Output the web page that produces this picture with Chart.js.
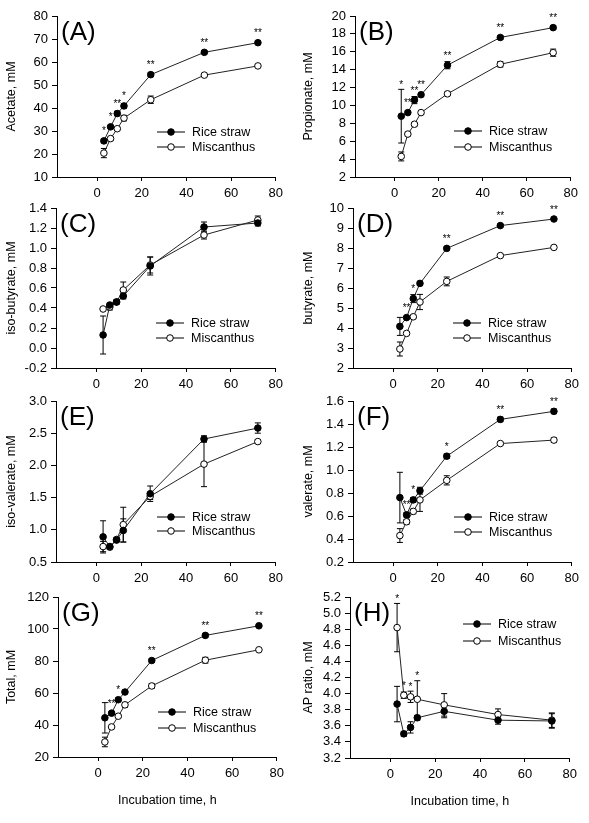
<!DOCTYPE html>
<html>
<head>
<meta charset="utf-8">
<script src="https://cdn.jsdelivr.net/npm/chart.js@4.4.1/dist/chart.umd.min.js"></script>
<style>
  body { margin: 0; background: #fff; }
  #wrap { position: relative; width: 589px; height: 823px; overflow: hidden; }
  #wrap canvas { position: absolute; }
</style>
</head>
<body>
<div id="wrap"></div>
<script>
// sampling times (h) and shared labels
const hours = [3, 6, 9, 12, 24, 48, 72];
const xTicks = [0, 20, 40, 60, 80];
const seriesNames = ['Rice straw', 'Miscanthus'];

// (A) acetate
const acetateTicks = [10, 20, 30, 40, 50, 60, 70, 80];
const acetateRice = [25.7, 31.8, 37.6, 40.9, 54.5, 64.2, 68.4];
const acetateRiceErr = [0.8, 0.6, 1.0, 1.0, 0.8, 0.6, 0.7];
const acetateMisc = [20.4, 26.7, 31.0, 35.6, 43.6, 54.3, 58.3];
const acetateMiscErr = [2.0, 0.6, 0.6, 1.2, 1.6, 0.6, 0.6];
const acetateSig = ['*', '*', '**', '*', '**', '**', '**'];

// (B) propionate
const propionateTicks = [2, 4, 6, 8, 10, 12, 14, 16, 18, 20];
const propionateRice = [8.8, 9.2, 10.6, 11.2, 14.5, 17.6, 18.7];
const propionateRiceErr = [3.0, 0.2, 0.4, 0.2, 0.4, 0.2, 0.2];
const propionateMisc = [4.3, 6.8, 7.9, 9.2, 11.3, 14.6, 15.9];
const propionateMiscErr = [0.5, 0.2, 0.2, 0.2, 0.2, 0.3, 0.4];
const propionateSig = ['*', '**', '**', '**', '**', '**', '**'];

// (C) iso-butyrate
const isoButyrateTicks = [-0.2, 0.0, 0.2, 0.4, 0.6, 0.8, 1.0, 1.2, 1.4];
const isoButyrateRice = [0.13, 0.43, 0.46, 0.52, 0.82, 1.21, 1.25];
const isoButyrateRiceErr = [0.19, 0.02, 0.02, 0.03, 0.09, 0.05, 0.03];
const isoButyrateMisc = [0.39, 0.41, 0.46, 0.58, 0.83, 1.13, 1.28];
const isoButyrateMiscErr = [0.01, 0.03, 0.02, 0.08, 0.08, 0.04, 0.04];
const isoButyrateSig = ['', '', '', '', '', '', ''];

// (D) butyrate
const butyrateTicks = [2, 3, 4, 5, 6, 7, 8, 9, 10];
const butyrateRice = [4.08, 4.52, 5.47, 6.23, 7.98, 9.12, 9.45];
const butyrateRiceErr = [0.45, 0.05, 0.2, 0.1, 0.08, 0.06, 0.05];
const butyrateMisc = [2.95, 3.73, 4.56, 5.3, 6.33, 7.62, 8.03];
const butyrateMiscErr = [0.35, 0.05, 0.08, 0.38, 0.22, 0.05, 0.06];
const butyrateSig = ['', '**', '*', '', '**', '**', '**'];

// (E) iso-valerate
const isoValerateTicks = [0.5, 1.0, 1.5, 2.0, 2.5, 3.0];
const isoValerateRice = [0.89, 0.74, 0.84, 0.99, 1.56, 2.41, 2.58];
const isoValerateRiceErr = [0.25, 0.02, 0.03, 0.18, 0.12, 0.05, 0.08];
const isoValerateMisc = [0.74, 0.73, 0.85, 1.08, 1.52, 2.02, 2.37];
const isoValerateMiscErr = [0.08, 0.03, 0.03, 0.27, 0.05, 0.35, 0.03];
const isoValerateSig = ['', '', '', '', '', '', ''];

// (F) valerate
const valerateTicks = [0.2, 0.4, 0.6, 0.8, 1.0, 1.2, 1.4, 1.6];
const valerateRice = [0.76, 0.61, 0.74, 0.82, 1.12, 1.44, 1.51];
const valerateRiceErr = [0.22, 0.02, 0.02, 0.03, 0.02, 0.02, 0.02];
const valerateMisc = [0.43, 0.55, 0.64, 0.74, 0.91, 1.23, 1.26];
const valerateMiscErr = [0.06, 0.02, 0.02, 0.1, 0.04, 0.01, 0.02];
const valerateSig = ['', '**', '*', '', '*', '**', '**'];

// (G) total
const totalTicks = [20, 40, 60, 80, 100, 120];
const totalRice = [44.5, 47.4, 55.8, 60.6, 80.3, 96.0, 102.0];
const totalRiceErr = [9.5, 0.8, 1.0, 0.8, 1.0, 1.0, 0.8];
const totalMisc = [29.4, 38.8, 45.5, 52.6, 64.4, 80.5, 87.0];
const totalMiscErr = [3.0, 0.8, 0.8, 1.5, 1.5, 1.8, 0.8];
const totalSig = ['', '**', '*', '', '**', '**', '**'];

// (H) AP ratio
const apTicks = [3.2, 3.4, 3.6, 3.8, 4.0, 4.2, 4.4, 4.6, 4.8, 5.0, 5.2];
const apRice = [3.87, 3.50, 3.58, 3.70, 3.78, 3.67, 3.66];
const apRiceErr = [0.22, 0.03, 0.07, 0.03, 0.08, 0.05, 0.09];
const apMisc = [4.82, 3.98, 3.96, 3.93, 3.86, 3.74, 3.67];
const apMiscErr = [0.30, 0.04, 0.07, 0.23, 0.14, 0.07, 0.09];
const apSig = ['*', '*', '*', '*', '', '', ''];

Chart.defaults.font.family = "'Liberation Sans', Arial, sans-serif";
Chart.defaults.color = '#000';

const FONT = "'Liberation Sans', Arial, sans-serif";

// panel boxes are plot-area edges in page pixels
const panels = [
  { tag: '(A)', title: 'Acetate, mM', ticks: acetateTicks, dec: 0, rice: acetateRice, riceErr: acetateRiceErr, misc: acetateMisc, miscErr: acetateMiscErr, sig: acetateSig,
    col: 0, box: { l: 57, r: 278, t: 16, b: 177 }, leg: { x: 100, y: 116, dy: 15 } },
  { tag: '(B)', title: 'Propionate, mM', ticks: propionateTicks, dec: 0, rice: propionateRice, riceErr: propionateRiceErr, misc: propionateMisc, miscErr: propionateMiscErr, sig: propionateSig,
    col: 1, box: { l: 355, r: 573, t: 16, b: 177 }, leg: { x: 99, y: 115, dy: 16 } },
  { tag: '(C)', title: 'iso-butyrate, mM', ticks: isoButyrateTicks, dec: 1, rice: isoButyrateRice, riceErr: isoButyrateRiceErr, misc: isoButyrateMisc, miscErr: isoButyrateMiscErr, sig: isoButyrateSig,
    col: 0, box: { l: 56, r: 278, t: 208, b: 368 }, leg: { x: 100, y: 115, dy: 15 } },
  { tag: '(D)', title: 'butyrate, mM', ticks: butyrateTicks, dec: 0, rice: butyrateRice, riceErr: butyrateRiceErr, misc: butyrateMisc, miscErr: butyrateMiscErr, sig: butyrateSig,
    col: 1, box: { l: 353, r: 574, t: 208, b: 368 }, leg: { x: 100, y: 115, dy: 15 } },
  { tag: '(E)', title: 'iso-valerate, mM', ticks: isoValerateTicks, dec: 1, rice: isoValerateRice, riceErr: isoValerateRiceErr, misc: isoValerateMisc, miscErr: isoValerateMiscErr, sig: isoValerateSig,
    col: 0, box: { l: 56, r: 278, t: 401, b: 562 }, leg: { x: 101, y: 116, dy: 14 } },
  { tag: '(F)', title: 'valerate, mM', ticks: valerateTicks, dec: 1, rice: valerateRice, riceErr: valerateRiceErr, misc: valerateMisc, miscErr: valerateMiscErr, sig: valerateSig,
    col: 1, box: { l: 353, r: 574, t: 401, b: 562 }, leg: { x: 101, y: 116, dy: 15 } },
  { tag: '(G)', title: 'Total, mM', ticks: totalTicks, dec: 0, rice: totalRice, riceErr: totalRiceErr, misc: totalMisc, miscErr: totalMiscErr, sig: totalSig,
    col: 0, box: { l: 58, r: 279, t: 597, b: 757 }, leg: { x: 100, y: 115, dy: 16 }, xTitle: true },
  { tag: '(H)', title: 'AP ratio, mM', ticks: apTicks, dec: 1, rice: apRice, riceErr: apRiceErr, misc: apMisc, miscErr: apMiscErr, sig: apSig,
    col: 1, box: { l: 350, r: 572, t: 597, b: 758 }, leg: { x: 113, y: 27, dy: 17 }, xTitle: true }
];

const toPoints = vals => hours.map((h, i) => ({ x: h, y: vals[i] }));

function makePanel(p) {
  const padTop = 16, padRight = 10;
  const xh = p.xTitle ? 56 : 24;
  const canvasLeft = p.col === 0 ? 0 : 297;
  const canvasTop = p.box.t - padTop;
  const w = p.box.r - canvasLeft + padRight;
  const h = padTop + (p.box.b - p.box.t) + xh;

  const canvas = document.createElement('canvas');
  canvas.width = w;
  canvas.height = h;
  canvas.style.left = canvasLeft + 'px';
  canvas.style.top = canvasTop + 'px';
  canvas.style.width = w + 'px';
  canvas.style.height = h + 'px';
  document.getElementById('wrap').appendChild(canvas);

  const errs = [p.riceErr, p.miscErr];
  const vals = [p.rice, p.misc];

  const decor = {
    id: 'decor',
    beforeDatasetsDraw(chart) {
      const { ctx, scales: { x, y } } = chart;
      ctx.save();
      ctx.strokeStyle = '#000';
      ctx.lineWidth = 1;
      for (let s = 0; s < 2; s++) {
        hours.forEach((t, i) => {
          const px = x.getPixelForValue(t);
          const y1 = y.getPixelForValue(vals[s][i] + errs[s][i]);
          const y2 = y.getPixelForValue(vals[s][i] - errs[s][i]);
          ctx.beginPath();
          ctx.moveTo(px, y1); ctx.lineTo(px, y2);
          ctx.moveTo(px - 3, y1); ctx.lineTo(px + 3, y1);
          ctx.moveTo(px - 3, y2); ctx.lineTo(px + 3, y2);
          ctx.stroke();
        });
      }
      ctx.restore();
    },
    afterDatasetsDraw(chart) {
      const { ctx, chartArea: a, scales: { x, y } } = chart;
      ctx.save();
      // significance marks
      ctx.font = '10px ' + FONT;
      ctx.fillStyle = '#000';
      ctx.textAlign = 'center';
      ctx.textBaseline = 'alphabetic';
      hours.forEach((t, i) => {
        if (!p.sig[i]) return;
        let top = Infinity;
        for (let s = 0; s < 2; s++) {
          const py = y.getPixelForValue(vals[s][i]);
          const pe = y.getPixelForValue(vals[s][i] + errs[s][i]);
          top = Math.min(top, py - 12, pe - 7);
        }
        ctx.fillText(p.sig[i], x.getPixelForValue(t), top + 5.5);
      });
      // panel letter
      ctx.font = '26px ' + FONT;
      ctx.textAlign = 'left';
      ctx.textBaseline = 'middle';
      ctx.fillText(p.tag, a.left + 4, a.top + 17);
      // legend
      ctx.font = '12.5px ' + FONT;
      seriesNames.forEach((name, k) => {
        const lx = a.left + p.leg.x;
        const ly = a.top + p.leg.y + k * p.leg.dy;
        ctx.strokeStyle = '#000';
        ctx.lineWidth = 1;
        ctx.beginPath();
        ctx.moveTo(lx, ly); ctx.lineTo(lx + 28, ly);
        ctx.stroke();
        ctx.beginPath();
        ctx.arc(lx + 14, ly, 3.3, 0, Math.PI * 2);
        ctx.fillStyle = k === 0 ? '#000' : '#fff';
        ctx.fill();
        ctx.stroke();
        ctx.fillStyle = '#000';
        ctx.fillText(name, lx + 35, ly + 1);
      });
      ctx.restore();
    }
  };

  new Chart(canvas.getContext('2d'), {
    type: 'line',
    data: {
      datasets: [
        {
          label: seriesNames[0],
          data: toPoints(p.rice),
          borderColor: '#222',
          borderWidth: 1,
          pointRadius: 3.3,
          pointBackgroundColor: '#000',
          pointBorderColor: '#000',
          pointBorderWidth: 1,
          tension: 0
        },
        {
          label: seriesNames[1],
          data: toPoints(p.misc),
          borderColor: '#222',
          borderWidth: 1,
          pointRadius: 3.3,
          pointBackgroundColor: '#fff',
          pointBorderColor: '#000',
          pointBorderWidth: 1,
          tension: 0
        }
      ]
    },
    options: {
      responsive: false,
      animation: false,
      layout: { padding: { top: padTop, right: padRight, left: 0, bottom: 0 } },
      plugins: { legend: { display: false }, tooltip: { enabled: false } },
      scales: {
        x: {
          type: 'linear',
          min: -18,
          max: 80,
          afterBuildTicks: s => { s.ticks = xTicks.map(v => ({ value: v })); },
          afterFit: s => { s.height = xh; },
          grid: { drawOnChartArea: false, color: '#000', tickLength: 4 },
          border: { color: '#000' },
          ticks: { padding: 5, maxRotation: 0, autoSkip: false, font: { size: 13 }, color: '#000' },
          title: {
            display: !!p.xTitle,
            text: 'Incubation time, h',
            font: { size: 12.5 },
            padding: { top: 0, bottom: 5 }
          }
        },
        y: {
          type: 'linear',
          min: p.ticks[0],
          max: p.ticks[p.ticks.length - 1],
          afterBuildTicks: s => { s.ticks = p.ticks.map(v => ({ value: v })); },
          afterFit: s => { s.width = p.box.l - canvasLeft; },
          grid: { drawOnChartArea: false, color: '#000', tickLength: 5 },
          border: { color: '#000' },
          ticks: {
            padding: 4,
            autoSkip: false,
            font: { size: 13 },
            color: '#000',
            callback: v => Number(v).toFixed(p.dec)
          },
          title: {
            display: true,
            text: p.title,
            font: { size: 12.5 },
            padding: { top: 4, bottom: 0 }
          }
        }
      }
    },
    plugins: [decor]
  });
}

panels.forEach(makePanel);
</script>
</body>
</html>
